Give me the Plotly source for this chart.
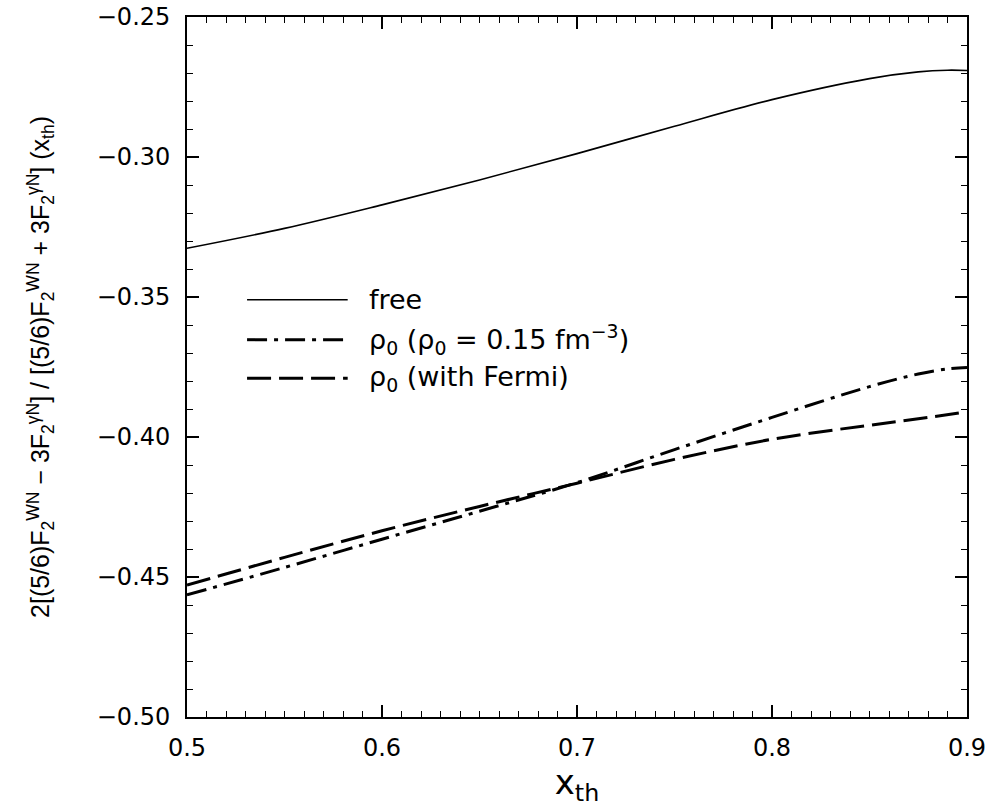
import plotly.graph_objects as go

# x_th values
x_free = [0.50, 0.55, 0.60, 0.65, 0.70, 0.75, 0.80, 0.85, 0.875, 0.89, 0.90]
y_free = [-0.3326, -0.3255, -0.3171, -0.3082, -0.2988, -0.2890, -0.2795, -0.2720, -0.2696, -0.2690, -0.2691]

x_rho = [0.50, 0.55, 0.60, 0.65, 0.70, 0.75, 0.80, 0.85, 0.875, 0.89, 0.90]
y_rho = [-0.4564, -0.4466, -0.4365, -0.4265, -0.4163, -0.4045, -0.3930, -0.3820, -0.3775, -0.3757, -0.3752]

x_fermi = [0.50, 0.55, 0.60, 0.65, 0.70, 0.75, 0.80, 0.85, 0.875, 0.90]
y_fermi = [-0.4529, -0.4430, -0.4335, -0.4248, -0.4165, -0.4080, -0.4008, -0.3958, -0.3935, -0.3910]

legend_labels = ["free",
                 "ρ<sub>0</sub> (ρ<sub>0</sub> = 0.15 fm<sup>−3</sup>)",
                 "ρ<sub>0</sub> (with Fermi)"]

DASHDOT = "20px,7px,4px,7px"
DASHED = "24px,8px"
FONT = "DejaVu Sans, sans-serif"
FONT2 = "Liberation Sans, Arial, sans-serif"

fig = go.Figure()
fig.add_trace(go.Scatter(x=x_free, y=y_free, mode="lines", line=dict(color="black", width=1.6, shape="spline"),
                         name=legend_labels[0], showlegend=False))
fig.add_trace(go.Scatter(x=x_rho, y=y_rho, mode="lines", line=dict(color="black", width=3, dash=DASHDOT, shape="spline"),
                         name=legend_labels[1], showlegend=False))
fig.add_trace(go.Scatter(x=x_fermi, y=y_fermi, mode="lines", line=dict(color="black", width=3, dash=DASHED, shape="spline"),
                         name=legend_labels[2], showlegend=False))

# manual legend (decoration in paper coordinates)
rows_y = [0.596, 0.539, 0.484]
styles = [dict(width=1.6), dict(width=3, dash=DASHDOT), dict(width=3, dash=DASHED)]
for yy, st, lab in zip(rows_y, styles, legend_labels):
    fig.add_shape(type="line", xref="paper", yref="paper", x0=0.077, x1=0.206, y0=yy, y1=yy,
                  line=dict(color="black", **st))
    fig.add_annotation(xref="paper", yref="paper", x=0.231, y=yy, text=lab, showarrow=False,
                       xanchor="left", yanchor="middle", font=dict(size=27, color="black", family=FONT))

axis_common = dict(showline=True, linecolor="black", linewidth=1.8, mirror="ticks", ticks="inside",
                   tickcolor="black", tickwidth=1.5, ticklen=12, showgrid=False, zeroline=False,
                   ticklabeloverflow="allow",
                   tickfont=dict(size=24, color="black", family=FONT))

fig.update_xaxes(range=[0.5, 0.9], dtick=0.1, tickformat=".1f", ticklabelstandoff=8,
                 minor=dict(dtick=0.01, ticks="inside", ticklen=6, tickcolor="black", tickwidth=1.2, showgrid=False),
                 title=dict(text="x<sub>th</sub>", font=dict(size=34, color="black", family=FONT), standoff=4),
                 **axis_common)
fig.update_yaxes(range=[-0.5, -0.25], dtick=0.05, tickformat=".2f", ticklabelstandoff=10,
                 minor=dict(dtick=0.01, ticks="inside", ticklen=6, tickcolor="black", tickwidth=1.2, showgrid=False),
                 title=dict(text="2[(5/6)F<sub>2</sub><sup>WN</sup> − 3F<sub>2</sub><sup>γN</sup>] / [(5/6)F<sub>2</sub><sup>WN</sup> + 3F<sub>2</sub><sup>γN</sup>] (x<sub>th</sub>)",
                            font=dict(size=25, color="black", family=FONT2), standoff=40),
                 **axis_common)

fig.update_layout(width=992, height=811, plot_bgcolor="white", paper_bgcolor="white",
                  margin=dict(l=187, r=25, t=17, b=94, autoexpand=False),
                  font=dict(family=FONT, color="black"))

fig.write_html("out.html", config={"displayModeBar": False},
               post_script="document.body.style.margin='0';")
